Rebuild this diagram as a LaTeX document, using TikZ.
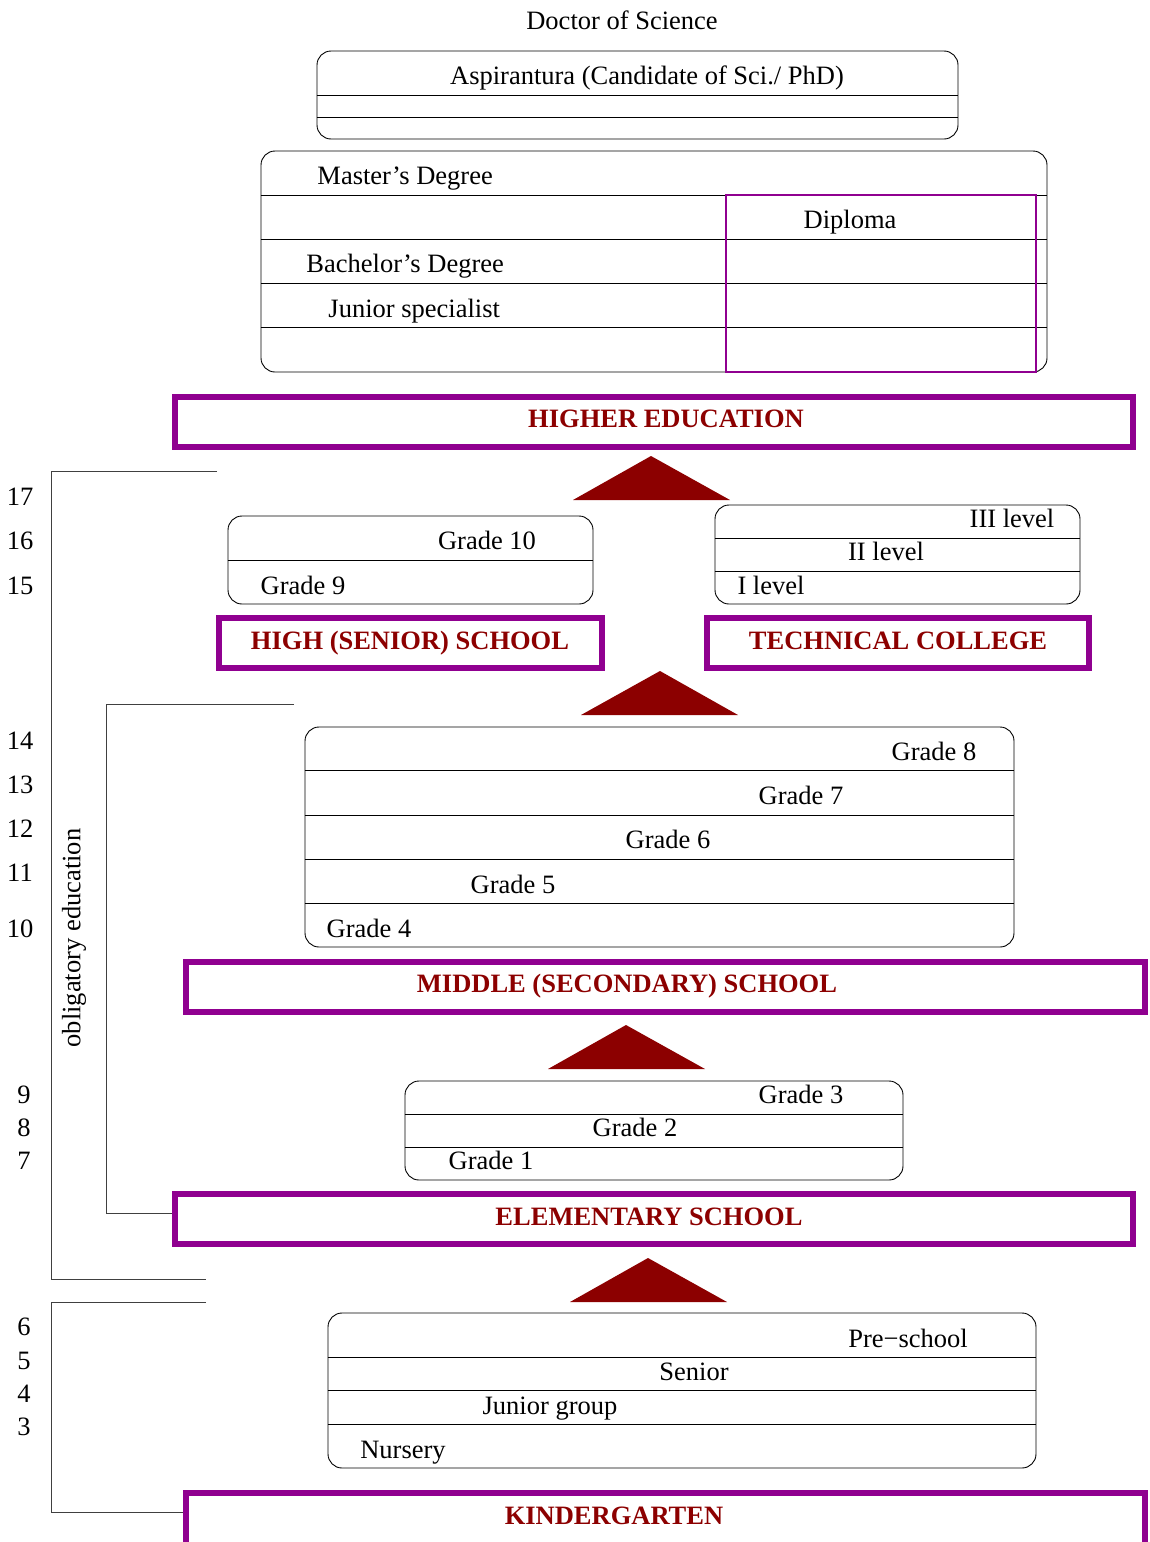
\documentclass[tikz,border=0pt]{standalone}
\usepackage{fontspec}
\setmainfont{Liberation Serif}
\usepackage{tikz}

\definecolor{stageviolet}{RGB}{144,0,144}
\definecolor{stagered}{RGB}{140,0,0}
\newcommand\plainsize{\fontsize{26.5}{30}\selectfont}

\tikzset{
  lbl/.style={inner sep=0pt, text height=0.66em, text depth=0pt, yshift=-6pt},
  tier/.style={draw, rounded corners=14pt, inner sep=0pt},
  stage/.style={draw=stageviolet, line width=6pt, inner sep=0pt},
  stagelbl/.style={lbl, font=\plainsize\bfseries, text=stagered},
  rise/.style={fill=stagered},
  bracket/.style={draw=black!75, line width=1pt}
}

\begin{document}
\begin{tikzpicture}[x=1pt, y=-1pt, font=\plainsize, line width=0.9pt]
\useasboundingbox (0,0) rectangle (1150,1542);

% higher education
\node[lbl] (dsc) at (622,20) {Doctor of Science};
\node[tier, minimum width=641, minimum height=88] (asp) at (637.5,95) {};
\foreach \y in {95,117} \draw (asp.west |- 0,\y) -- (asp.east |- 0,\y);
\node[lbl] (asp-lbl) at (647,75) {Aspirantura (Candidate of Sci./ PhD)};

\node[tier, minimum width=786, minimum height=221] (mst) at (654,261.5) {};
\foreach \y in {195,239,283,327} \draw (mst.west |- 0,\y) -- (mst.east |- 0,\y);
\node[draw=stageviolet, line width=2pt, inner sep=0pt, minimum width=310, minimum height=177] (dip) at (881,283.5) {};
\node[lbl, anchor=west] (mst-lbl) at (317,175) {Master’s Degree};
\node[lbl] (dip-lbl) at (850,219) {Diploma};
\node[lbl, anchor=west] (bch-lbl) at (306,263) {Bachelor’s Degree};
\node[lbl, anchor=west] (jsp-lbl) at (328,308) {Junior specialist};

\node[stage, minimum width=958, minimum height=50] (higher) at (654,422) {};
\node[stagelbl] (higher-lbl) at (666,418) {HIGHER EDUCATION};
\fill[rise] (573,500) -- (651,456) -- (730,500) -- cycle;

% obligatory education
\draw[bracket] (217,471) -- (51,471) -- (51,1279) -- (206,1279);
\draw[bracket] (294,704) -- (106,704) -- (106,1213) -- (172,1213);
\node[inner sep=0pt, text height=0.66em, text depth=0pt, rotate=90] (oblig) at (77,938) {obligatory education};

\foreach \n/\y in {17/496,16/540,15/585,14/740,13/784,12/828,11/872,10/928}
  \node[lbl] (age\n) at (20,\y) {\n};
\foreach \n/\y in {9/1094,8/1127,7/1160,6/1326,5/1360,4/1393,3/1426}
  \node[lbl] (age\n) at (24,\y) {\n};

% high school and college
\node[tier, minimum width=365, minimum height=88] (hs) at (410.5,560) {};
\draw (hs.west |- 0,560) -- (hs.east |- 0,560);
\node[lbl] (g10) at (487,540) {Grade 10};
\node[lbl] (g9) at (303,585) {Grade 9};

\node[tier, minimum width=365, minimum height=99] (tc) at (897.5,554.5) {};
\foreach \y in {538,571} \draw (tc.west |- 0,\y) -- (tc.east |- 0,\y);
\node[lbl] (lv3) at (1012,518) {III level};
\node[lbl] (lv2) at (886,551) {II level};
\node[lbl] (lv1) at (771,585) {I level};

\node[stage, minimum width=383, minimum height=50] (high) at (410.5,643) {};
\node[stagelbl] (high-lbl) at (410,640) {HIGH (SENIOR) SCHOOL};
\node[stage, minimum width=382, minimum height=50] (tech) at (898,643) {};
\node[stagelbl] (tech-lbl) at (898,640) {TECHNICAL COLLEGE};
\fill[rise] (581,715) -- (660,671) -- (738,715) -- cycle;

% middle school
\node[tier, minimum width=709, minimum height=220] (mid) at (659.5,837) {};
\foreach \y in {770,815,859,903} \draw (mid.west |- 0,\y) -- (mid.east |- 0,\y);
\node[lbl] (g8) at (934,751) {Grade 8};
\node[lbl] (g7) at (801,795) {Grade 7};
\node[lbl] (g6) at (668,839) {Grade 6};
\node[lbl] (g5) at (513,884) {Grade 5};
\node[lbl] (g4) at (369,928) {Grade 4};

\node[stage, minimum width=959, minimum height=50] (middle) at (665.5,987) {};
\node[stagelbl] (middle-lbl) at (627,983) {MIDDLE (SECONDARY) SCHOOL};
\fill[rise] (548,1069) -- (626,1025) -- (705,1069) -- cycle;

% elementary school
\node[tier, minimum width=498, minimum height=99] (elm) at (654,1130.5) {};
\foreach \y in {1114,1147} \draw (elm.west |- 0,\y) -- (elm.east |- 0,\y);
\node[lbl] (g3) at (801,1094) {Grade 3};
\node[lbl] (g2) at (635,1127) {Grade 2};
\node[lbl] (g1) at (491,1160) {Grade 1};

\node[stage, minimum width=958, minimum height=50] (elem) at (654,1219) {};
\node[stagelbl] (elem-lbl) at (649,1216) {ELEMENTARY SCHOOL};
\fill[rise] (570,1302) -- (648,1258) -- (727,1302) -- cycle;

% kindergarten
\draw[bracket] (206,1302) -- (51,1302) -- (51,1512) -- (183,1512);
\node[tier, minimum width=708, minimum height=155] (kg) at (682,1390.5) {};
\foreach \y in {1357,1390,1424} \draw (kg.west |- 0,\y) -- (kg.east |- 0,\y);
\node[lbl] (pre) at (908,1338) {Pre−school};
\node[lbl] (sen) at (694,1371) {Senior};
\node[lbl] (jun) at (550,1405) {Junior group};
\node[lbl] (nur) at (403,1449) {Nursery};

\node[stage, minimum width=959, minimum height=60] (kinder) at (665.5,1523) {};
\node[stagelbl] (kinder-lbl) at (614,1515) {KINDERGARTEN};
\end{tikzpicture}
\end{document}
